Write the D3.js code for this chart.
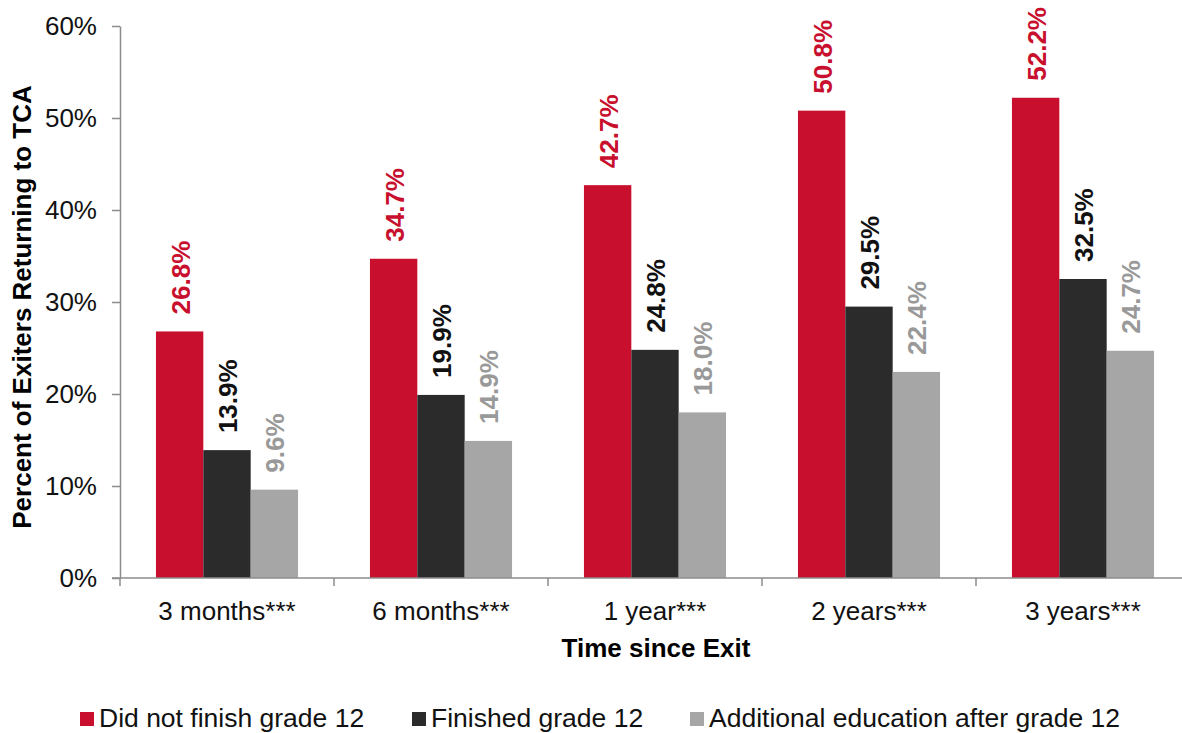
<!DOCTYPE html>
<html>
<head>
<style>
  body { margin: 0; background: #fff; }
  text { font-family: "Liberation Sans", Arial, sans-serif; }
</style>
</head>
<body>
<svg width="1182" height="733"></svg>
<script src="https://d3js.org/d3.v7.min.js"></script>
<script>
// data
const categories = ["3 months***", "6 months***", "1 year***", "2 years***", "3 years***"];
const seriesNames = ["Did not finish grade 12", "Finished grade 12", "Additional education after grade 12"];
const didNotFinish = [26.8, 34.7, 42.7, 50.8, 52.2];
const finished = [13.9, 19.9, 24.8, 29.5, 32.5];
const additional = [9.6, 14.9, 18.0, 22.4, 24.7];
const yTicks = [0, 10, 20, 30, 40, 50, 60];

const colors = ["#c8102e", "#2b2b2b", "#a6a6a6"];
const labelColors = ["#c8102e", "#111111", "#999999"];
const series = [didNotFinish, finished, additional];

const svg = d3.select("svg");
const plotLeft = 120, plotTop = 26, plotBottom = 578;
const step = 214;

const x = d3.scaleBand()
  .domain(categories)
  .range([plotLeft, plotLeft + step * categories.length])
  .paddingInner(0.336)
  .paddingOuter(0.168);

const xInner = d3.scaleBand()
  .domain(d3.range(series.length))
  .range([0, x.bandwidth()]);

const y = d3.scaleLinear().domain([0, 60]).range([plotBottom, plotTop]);

// bars
series.forEach(function(vals, si) {
  svg.append("g")
    .selectAll("rect")
    .data(vals)
    .enter()
    .append("rect")
      .attr("x", (d, i) => x(categories[i]) + xInner(si))
      .attr("y", d => y(d))
      .attr("width", xInner.bandwidth())
      .attr("height", d => y(0) - y(d))
      .attr("fill", colors[si]);

  svg.append("g")
    .selectAll("text")
    .data(vals)
    .enter()
    .append("text")
      .attr("transform", (d, i) => {
        const cx = x(categories[i]) + xInner(si) + xInner.bandwidth() / 2;
        return "translate(" + (cx + 10) + "," + (y(d) - 17) + ") rotate(-90)";
      })
      .attr("font-size", "26px")
      .attr("font-weight", "bold")
      .attr("fill", labelColors[si])
      .text(d => d.toFixed(1) + "%");
});

// y axis
const yAxis = svg.append("g")
  .attr("transform", "translate(" + plotLeft + ",0)")
  .call(d3.axisLeft(y).tickValues(yTicks).tickFormat(d => d + "%").tickSize(8).tickSizeOuter(0));
yAxis.select(".domain").attr("stroke", "#8c8c8c").attr("stroke-width", 1.5);
yAxis.selectAll(".tick line").attr("stroke", "#8c8c8c").attr("stroke-width", 1.5);
yAxis.selectAll(".tick text")
  .attr("font-size", "26px")
  .attr("fill", "#111")
  .attr("x", -23)
  .style("font-family", "'Liberation Sans', Arial, sans-serif");

// x axis
const xAxisG = svg.append("g").attr("transform", "translate(0," + plotBottom + ")");
xAxisG.append("line")
  .attr("x1", plotLeft - 8).attr("x2", 1182)
  .attr("stroke", "#8c8c8c").attr("stroke-width", 1.5);
xAxisG.selectAll(".xt")
  .data(d3.range(categories.length + 1))
  .enter()
  .append("line")
    .attr("x1", i => plotLeft + i * step)
    .attr("x2", i => plotLeft + i * step)
    .attr("y1", 0).attr("y2", 8)
    .attr("stroke", "#8c8c8c").attr("stroke-width", 1.5);
xAxisG.selectAll(".xl")
  .data(categories)
  .enter()
  .append("text")
    .attr("x", d => x(d) + x.bandwidth() / 2)
    .attr("y", 42)
    .attr("text-anchor", "middle")
    .attr("font-size", "26px")
    .attr("fill", "#111")
    .text(d => d);

// axis titles
svg.append("text")
  .attr("x", 656).attr("y", 657)
  .attr("text-anchor", "middle")
  .attr("font-size", "26px")
  .attr("font-weight", "bold")
  .text("Time since Exit");

svg.append("text")
  .attr("transform", "translate(31,307) rotate(-90)")
  .attr("text-anchor", "middle")
  .attr("font-size", "26px")
  .attr("font-weight", "bold")
  .text("Percent of Exiters Returning to TCA");

// legend
const legendX = [80, 412, 690];
const legend = svg.append("g");
seriesNames.forEach(function(name, i) {
  legend.append("rect")
    .attr("x", legendX[i]).attr("y", 712)
    .attr("width", 14).attr("height", 14)
    .attr("fill", colors[i]);
  legend.append("text")
    .attr("x", legendX[i] + 19).attr("y", 727)
    .attr("font-size", "26.5px")
    .attr("fill", "#111")
    .text(name);
});
</script>
</body>
</html>
